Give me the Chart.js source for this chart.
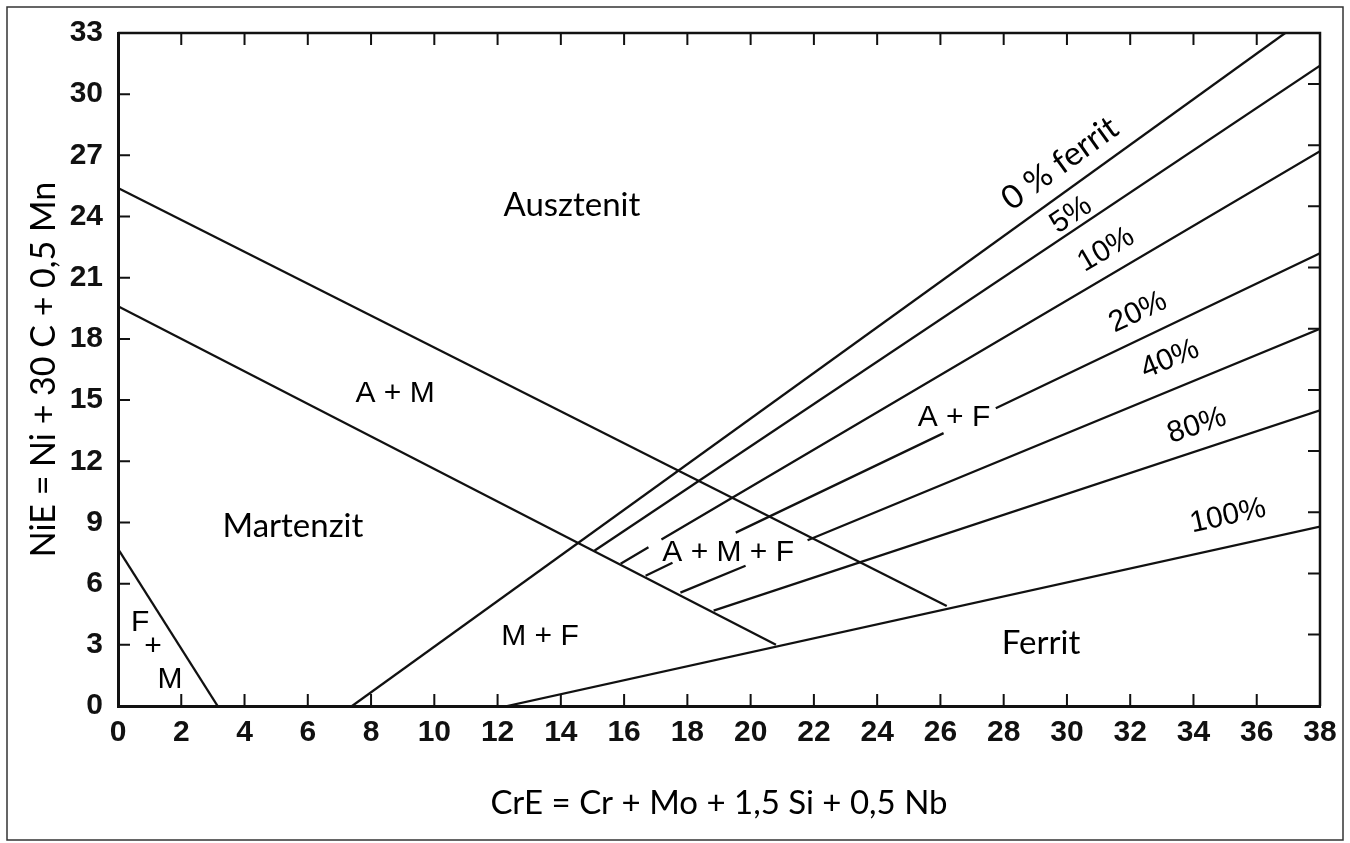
<!DOCTYPE html>
<html>
<head>
<meta charset="utf-8">
<script src="https://cdn.jsdelivr.net/npm/chart.js@4.4.0/dist/chart.umd.min.js"></script>
<style>
  html, body { margin: 0; padding: 0; background: #fff; }
</style>
</head>
<body>
<canvas id="chartContainer" width="1350" height="843"></canvas>
<script>
// Schaeffler diagram boundary lines, as [CrE, NiE] pairs
// a pair with null NiE leaves a gap in the line (where a label sits)
const austeniteMartensite = [[0, 25.4], [26.2, 4.9]];
const martensiteLimit = [[0, 19.6], [20.8, 3.0]];
const ferriteMartensite = [[0, 7.7], [3.15, 0]];
const ferrite0 = [[7.4, 0], [36.9, 33]];
const ferrite5 = [[15.06, 7.61], [38, 31.4]];
const ferrite10 = [[15.89, 6.98], [16.77, 7.78], [16.97, null], [17.18, 8.16], [38, 27.2]];
const ferrite20 = [[16.68, 6.39], [17.53, 7.02], [18.5, null], [19.53, 8.5], [26.1, 13.38], [26.9, null], [27.75, 14.6], [38, 22.2]];
const ferrite40 = [[17.78, 5.56], [19.84, 6.88], [20.8, null], [21.8, 8.13], [38, 18.5]];
const ferrite80 = [[18.83, 4.68], [38, 14.5]];
const ferrite100 = [[12.3, 0], [38, 8.8]];

// extra tick marks on the top and right frame (no labels there)
const topTicks = [2, 4, 6, 8, 10, 12, 14, 16, 18, 20, 22, 24, 26, 28, 30, 32, 34, 36];
const rightTicks = [3.5, 6.5, 9.5, 12.5, 15.5, 18.5, 21.5, 24.5, 27.5, 30.5];

const xTitle = 'CrE = Cr + Mo + 1,5 Si + 0,5 Nb';
const yTitle = 'NiE = Ni + 30 C + 0,5 Mn';

// region names
const regionLabels = [
    { text: 'Ausztenit', x: 14.35, y: 24.03, kind: 'note' },
    { text: 'Martenzit', x: 5.53, y: 8.28, kind: 'note' },
    { text: 'Ferrit', x: 29.18, y: 2.53, kind: 'note' },
    { text: 'A + M', x: 8.76, y: 14.91, kind: 'phase' },
    { text: 'M + F', x: 13.34, y: 2.97, kind: 'phase' },
    { text: 'A + M + F', x: 19.29, y: 7.12, kind: 'phase' },
    { text: 'A + F', x: 26.43, y: 13.74, kind: 'phase' },
    { text: 'F', x: 0.70, y: 3.70, kind: 'phase' },
    { text: '+', x: 1.11, y: 2.49, kind: 'phase' },
    { text: 'M', x: 1.64, y: 0.88, kind: 'phase' }
];
// labels written along the ferrite lines
const lineLabels = [
    { text: '0 % ferrit', line: ferrite0, x: 29.78, y: 26.6, kind: 'note' },
    { text: '5%', line: ferrite5, x: 30.13, y: 24.07, kind: 'phase' },
    { text: '10%', line: ferrite10, x: 31.24, y: 22.37, kind: 'phase' },
    { text: '20%', line: ferrite20, x: 32.25, y: 19.3, kind: 'phase' },
    { text: '40%', line: ferrite40, x: 33.26, y: 17.0, kind: 'phase' },
    { text: '80%', line: ferrite80, x: 34.11, y: 13.74, kind: 'phase' },
    { text: '100%', line: ferrite100, x: 35.09, y: 9.31, kind: 'phase' }
];

const fonts = {
    note: '33px Lato',
    phase: '30px "Liberation Sans"'
};

function toPoints(pairs) {
    return pairs.map(p => ({ x: p[0], y: p[1] }));
}

function lineSet(pairs) {
    return {
        data: toPoints(pairs),
        borderColor: '#111',
        borderWidth: 2.3,
        pointRadius: 0,
        tension: 0,
        spanGaps: false
    };
}

// frame, inward tick marks and the text labels
const diagramPlugin = {
    id: 'diagram',
    beforeDraw(chart) {
        const ctx = chart.ctx;
        ctx.save();
        ctx.fillStyle = '#fff';
        ctx.fillRect(0, 0, chart.width, chart.height);
        ctx.strokeStyle = '#333';
        ctx.lineWidth = 1.5;
        ctx.strokeRect(7, 7, chart.width - 14, chart.height - 10);
        ctx.restore();
    },
    afterDraw(chart) {
        const ctx = chart.ctx;
        const xs = chart.scales.x;
        const ys = chart.scales.y;
        const area = chart.chartArea;
        const len = 12;
        ctx.save();
        ctx.strokeStyle = '#111';
        ctx.lineWidth = 2.5;
        ctx.beginPath();
        ctx.moveTo(area.left, area.top);
        ctx.lineTo(area.right, area.top);
        ctx.lineTo(area.right, area.bottom);
        ctx.stroke();

        ctx.lineWidth = 2;
        ctx.beginPath();
        xs.ticks.forEach(t => {
            if (t.value <= xs.min || t.value >= xs.max) return;
            const px = xs.getPixelForValue(t.value);
            ctx.moveTo(px, area.bottom);
            ctx.lineTo(px, area.bottom - len);
        });
        ys.ticks.forEach(t => {
            if (t.value <= ys.min || t.value >= ys.max) return;
            const py = ys.getPixelForValue(t.value);
            ctx.moveTo(area.left, py);
            ctx.lineTo(area.left + len, py);
        });
        topTicks.forEach(v => {
            const px = xs.getPixelForValue(v);
            ctx.moveTo(px, area.top);
            ctx.lineTo(px, area.top + len);
        });
        rightTicks.forEach(v => {
            const py = ys.getPixelForValue(v);
            ctx.moveTo(area.right, py);
            ctx.lineTo(area.right - len, py);
        });
        ctx.stroke();

        ctx.fillStyle = '#000';
        ctx.textAlign = 'center';
        ctx.textBaseline = 'alphabetic';
        regionLabels.forEach(l => {
            ctx.font = fonts[l.kind];
            ctx.fillText(l.text, xs.getPixelForValue(l.x), ys.getPixelForValue(l.y));
        });

        ctx.textBaseline = 'middle';
        lineLabels.forEach(l => {
            const a = l.line[0];
            const b = l.line[l.line.length - 1];
            const angle = Math.atan2(
                ys.getPixelForValue(b[1]) - ys.getPixelForValue(a[1]),
                xs.getPixelForValue(b[0]) - xs.getPixelForValue(a[0]));
            ctx.save();
            ctx.translate(xs.getPixelForValue(l.x), ys.getPixelForValue(l.y));
            ctx.rotate(angle);
            ctx.font = fonts[l.kind];
            ctx.fillText(l.text, 0, 0);
            ctx.restore();
        });
        ctx.restore();
    }
};

const chart = new Chart(document.getElementById('chartContainer'), {
    type: 'line',
    data: {
        datasets: [
            lineSet(austeniteMartensite),
            lineSet(martensiteLimit),
            lineSet(ferriteMartensite),
            lineSet(ferrite0),
            lineSet(ferrite5),
            lineSet(ferrite10),
            lineSet(ferrite20),
            lineSet(ferrite40),
            lineSet(ferrite80),
            lineSet(ferrite100)
        ]
    },
    options: {
        responsive: false,
        animation: false,
        events: [],
        layout: { padding: { left: 0, top: 29, right: 30, bottom: 0 } },
        plugins: {
            legend: { display: false },
            tooltip: { enabled: false }
        },
        scales: {
            x: {
                type: 'linear',
                min: 0,
                max: 38,
                ticks: {
                    stepSize: 2,
                    padding: 9,
                    color: '#111',
                    font: { family: 'Liberation Sans', size: 30, weight: 'bold' }
                },
                grid: { display: false, drawTicks: false },
                border: { display: true, color: '#111', width: 3 },
                title: {
                    display: true,
                    text: xTitle,
                    color: '#000',
                    font: { family: 'Lato', size: 33 },
                    padding: { top: 0, bottom: 20 }
                },
                afterFit(scale) { scale.height = 137; }
            },
            y: {
                type: 'linear',
                min: 0,
                max: 33,
                ticks: {
                    stepSize: 3,
                    padding: 15,
                    color: '#111',
                    font: { family: 'Liberation Sans', size: 30, weight: 'bold' }
                },
                grid: { display: false, drawTicks: false },
                border: { display: true, color: '#111', width: 3 },
                title: {
                    display: true,
                    text: yTitle,
                    color: '#000',
                    font: { family: 'Lato', size: 34 },
                    padding: { top: 24, bottom: 0 }
                },
                afterFit(scale) { scale.width = 118; }
            }
        }
    },
    plugins: [diagramPlugin]
});
</script>
</body>
</html>
